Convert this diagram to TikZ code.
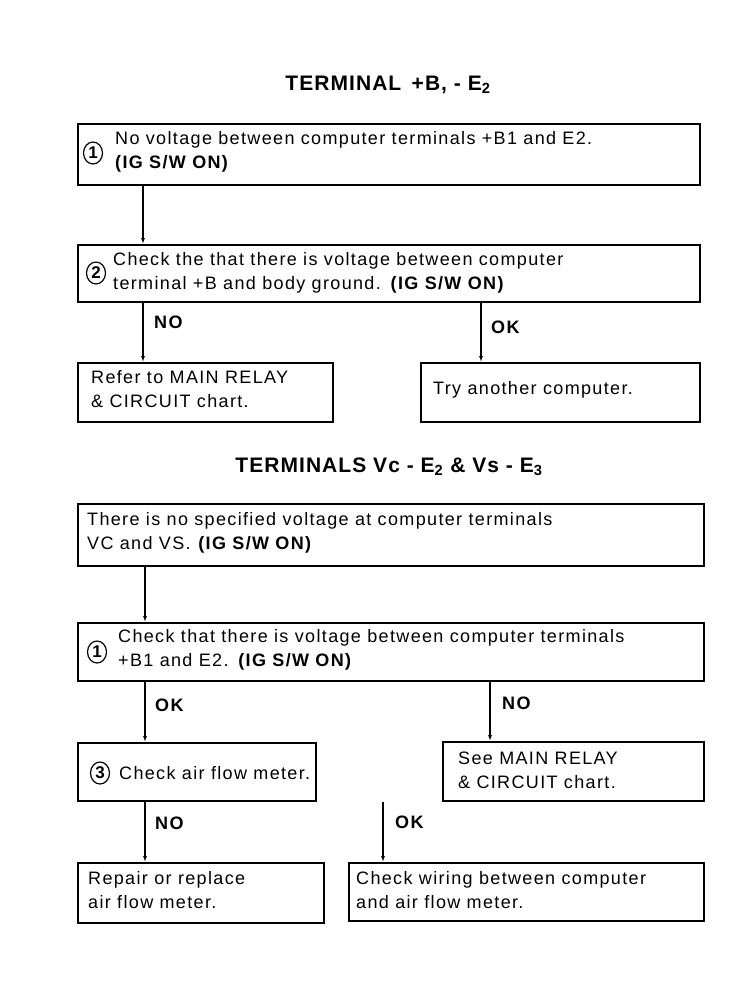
\documentclass[tikz,border=0pt]{standalone}
\usepackage{fontspec}
\setmainfont{Liberation Sans}
\newfontfamily\widefont[LetterSpace=7.5]{Liberation Sans}
\newfontfamily\ttlfont[LetterSpace=5]{Liberation Sans}
\usetikzlibrary{arrows.meta,shapes.geometric}
\begin{document}
\begin{tikzpicture}[x=1pt,y=-1pt,
  box/.style={draw,line width=1.6pt,anchor=north west,inner sep=0pt},
  txt/.style={anchor=west,align=left,inner sep=0pt,font=\widefont\fontsize{18}{24}\selectfont},
  lbl/.style={anchor=west,inner sep=0pt,font=\widefont\fontsize{18}{20}\selectfont\bfseries},
  ttl/.style={inner sep=0pt,font=\ttlfont\fontsize{21}{24}\selectfont\bfseries},
  num/.style={ellipse,draw,line width=1.2pt,inner sep=0pt,minimum width=19pt,minimum height=22pt,font=\fontsize{17}{17}\selectfont\bfseries},
  arr/.style={line width=1.1pt,-{Latex[length=6pt,width=4pt]}}]
\useasboundingbox (0,0) rectangle (742,997);
\fill[white] (0,0) rectangle (742,997);

% ---- section 1
\node[ttl] (t1) at (388,85) {TERMINAL \,+B, - E\textsubscript{2}};

\node[box,minimum width=622pt,minimum height=61pt] (b1) at (77,123) {};
\node[num] (n1) at (93,153) {1};
\node[txt] (x1) at (115,152) {No voltage between computer terminals +B1 and E2.\\\textbf{(IG S/W ON)}};

\node[box,minimum width=622pt,minimum height=57pt] (b2) at (77,244) {};
\node[num] (n2) at (96,273) {2};
\node[txt] (x2) at (113,273) {Check the that there is voltage between computer\\terminal +B and body ground. \textbf{(IG S/W ON)}};

\node[box,minimum width=255pt,minimum height=59pt] (b3) at (77,362) {};
\node[txt] (x3) at (91,389) {Refer to MAIN RELAY\\\& CIRCUIT chart.};

\node[box,minimum width=279pt,minimum height=59pt] (b4) at (420,362) {};
\node[txt] (x4) at (433,390) {Try another computer.};

\coordinate (c1) at (143,0);
\coordinate (c2) at (481,0);
\draw[arr] (b1.south -| c1) -- (b2.north -| c1);
\draw[arr] (b2.south -| c1) -- (b3.north -| c1);
\draw[arr] (b2.south -| c2) -- (b4.north -| c2);
\node[lbl] (l1) at (154,322) {NO};
\node[lbl] (l2) at (491,327) {OK};

% ---- section 2
\node[ttl] (t2) at (389,467) {TERMINALS Vc - E\textsubscript{2} \& Vs - E\textsubscript{3}};

\node[box,minimum width=626pt,minimum height=62pt] (b5) at (77,503) {};
\node[txt] (x5) at (87,533) {There is no specified voltage at computer terminals\\VC and VS. \textbf{(IG S/W ON)}};

\node[box,minimum width=626pt,minimum height=58pt] (b6) at (77,622) {};
\node[num] (n6) at (97,652) {1};
\node[txt] (x6) at (118,650) {Check that there is voltage between computer terminals\\+B1 and E2. \textbf{(IG S/W ON)}};

\node[box,minimum width=238pt,minimum height=58pt] (b7) at (77,742) {};
\node[num] (n7) at (100,773) {3};
\node[txt] (x7) at (119,773) {Check air flow meter.};

\node[box,minimum width=261pt,minimum height=59pt] (b8) at (442,741) {};
\node[txt] (x8) at (458,770) {See MAIN RELAY\\\& CIRCUIT chart.};

\node[box,minimum width=246pt,minimum height=60pt] (b9) at (77,862) {};
\node[txt] (x9) at (88,890) {Repair or replace\\air flow meter.};

\node[box,minimum width=355pt,minimum height=58pt] (b10) at (348,862) {};
\node[txt] (x10) at (356,890) {Check wiring between computer\\and air flow meter.};

\coordinate (c3) at (145,0);
\coordinate (c4) at (490,0);
\coordinate (c5) at (383,0);
\draw[arr] (b5.south -| c3) -- (b6.north -| c3);
\draw[arr] (b6.south -| c3) -- (b7.north -| c3);
\draw[arr] (b6.south -| c4) -- (b8.north -| c4);
\draw[arr] (b7.south -| c3) -- (b9.north -| c3);
\draw[arr] (b7.south -| c5) -- (b10.north -| c5);
\node[lbl] (l3) at (155,705) {OK};
\node[lbl] (l4) at (502,703) {NO};
\node[lbl] (l5) at (155,823) {NO};
\node[lbl] (l6) at (395,822) {OK};
\end{tikzpicture}
\end{document}
